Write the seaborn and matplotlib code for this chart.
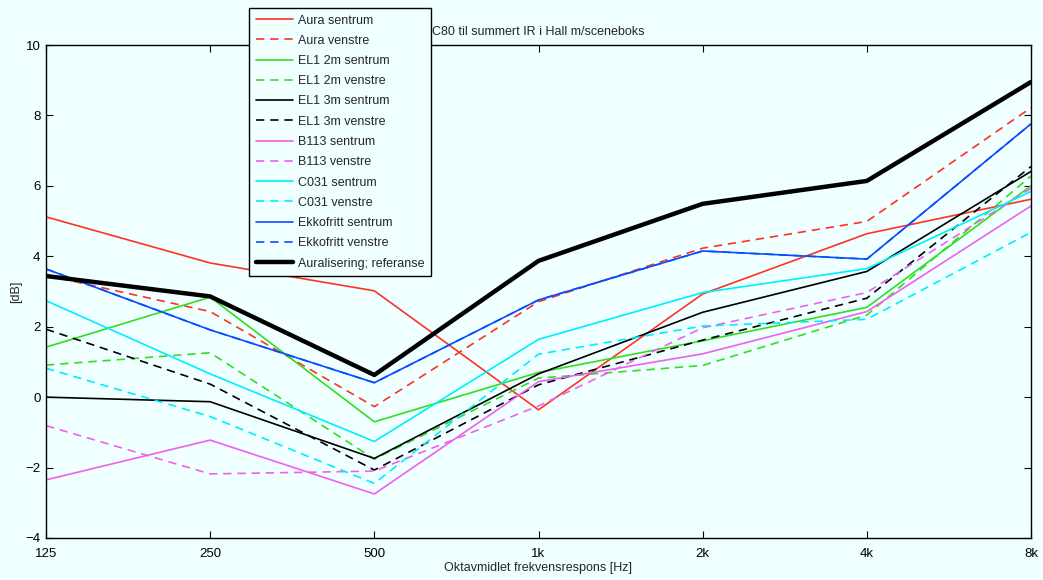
import numpy as np
import pandas as pd
import matplotlib
matplotlib.use("Agg")
import matplotlib.pyplot as plt
import seaborn as sns

freqs = [125, 250, 500, 1000, 2000, 4000, 8000]
freq_labels = ["125", "250", "500", "1k", "2k", "4k", "8k"]

aura_sentrum = [5.12, 3.81, 3.02, -0.36, 2.93, 4.64, 5.62]
aura_venstre = [3.46, 2.43, -0.27, 2.71, 4.23, 4.99, 8.22]
el1_2m_sentrum = [1.42, 2.84, -0.70, 0.70, 1.60, 2.55, 6.00]
el1_2m_venstre = [0.91, 1.26, -1.76, 0.54, 0.90, 2.33, 6.28]
el1_3m_sentrum = [0.00, -0.13, -1.74, 0.66, 2.41, 3.57, 6.41]
el1_3m_venstre = [1.93, 0.37, -2.07, 0.35, 1.62, 2.81, 6.55]
b113_sentrum = [-2.35, -1.22, -2.75, 0.44, 1.23, 2.43, 5.43]
b113_venstre = [-0.81, -2.18, -2.10, -0.25, 1.97, 2.97, 5.93]
c031_sentrum = [2.74, 0.66, -1.26, 1.64, 2.97, 3.65, 5.84]
c031_venstre = [0.82, -0.55, -2.45, 1.22, 2.02, 2.21, 4.68]
ekko_sentrum = [3.64, 1.91, 0.41, 2.76, 4.15, 3.92, 7.76]
ekko_venstre = [3.64, 1.91, 0.41, 2.76, 4.15, 3.92, 7.76]
referanse = [3.44, 2.86, 0.63, 3.87, 5.49, 6.14, 8.95]

series = [
    ("Aura sentrum", aura_sentrum, "#ff3322", "-", 1.2),
    ("Aura venstre", aura_venstre, "#ff3322", "--", 1.2),
    ("EL1 2m sentrum", el1_2m_sentrum, "#33dd22", "-", 1.2),
    ("EL1 2m venstre", el1_2m_venstre, "#33dd22", "--", 1.2),
    ("EL1 3m sentrum", el1_3m_sentrum, "#000000", "-", 1.2),
    ("EL1 3m venstre", el1_3m_venstre, "#000000", "--", 1.2),
    ("B113 sentrum", b113_sentrum, "#f060f0", "-", 1.2),
    ("B113 venstre", b113_venstre, "#f060f0", "--", 1.2),
    ("C031 sentrum", c031_sentrum, "#00eeff", "-", 1.2),
    ("C031 venstre", c031_venstre, "#00eeff", "--", 1.2),
    ("Ekkofritt sentrum", ekko_sentrum, "#0a4cff", "-", 1.2),
    ("Ekkofritt venstre", ekko_venstre, "#0a4cff", "--", 1.2),
    ("Auralisering; referanse", referanse, "#000000", "-", 3.2),
]

sns.set_theme(style="white")
plt.rcParams['font.family'] = ['Liberation Sans', 'DejaVu Sans']
bg = "#f0ffff"

fig = plt.figure(figsize=(10.43, 5.8), dpi=100, facecolor=bg)
ax = fig.add_axes([46/1043, 1-538/580, (1031-46)/1043, (538-45)/580])
ax.set_facecolor(bg)

handles = []
for name, vals, color, ls, lw in series:
    df = pd.DataFrame({"freq": freqs, "val": vals})
    sns.lineplot(data=df, x="freq", y="val", ax=ax, color=color, lw=lw,
                 legend=False, sort=False)
    line = ax.lines[-1]
    line.set_linestyle(ls)
    if ls == "--":
        line.set_dashes((5, 3.5))
    line.set_label(name)
    handles.append(line)

ax.set_xscale("log", base=2)
ax.set_xlim(125, 8000)
ax.set_ylim(-4, 10)
ax.set_xticks(freqs)
ax.set_xticklabels(freq_labels)
ax.minorticks_off()
ax.set_yticks(np.arange(-4, 11, 2))
ax.set_yticklabels([f"{v}".replace("-", "\u2212") for v in range(-4, 11, 2)])
ax.tick_params(direction="in", length=5, width=0.8, top=True, right=True,
               bottom=True, left=True, labelsize=9.5, colors="black")
ax.tick_params(axis="x", pad=7)
ax.tick_params(axis="y", pad=4)
for s in ax.spines.values():
    s.set_visible(True)
    s.set_color("black")
    s.set_linewidth(1.0)
ax.set_xlabel("Oktavmidlet frekvensrespons [Hz]", fontsize=9, labelpad=2)
ax.set_ylabel("[dB]", fontsize=9, labelpad=2)
ax.set_title("C80 til summert IR i Hall m/sceneboks", fontsize=9, pad=7)

leg = fig.legend(handles=handles, loc="upper left",
                 bbox_to_anchor=(249/1043, 1-8/580), fontsize=9,
                 frameon=True, fancybox=False, framealpha=1,
                 facecolor=bg, edgecolor="black", handlelength=3.0,
                 labelspacing=0.66, borderpad=0.52, handletextpad=0.4,
                 borderaxespad=0)
leg.get_frame().set_linewidth(1.0)

fig.savefig("out.png", dpi=100, facecolor=bg)
